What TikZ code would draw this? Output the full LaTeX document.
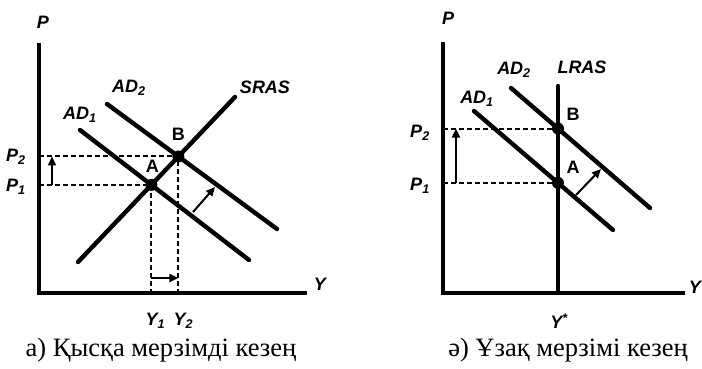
\documentclass[tikz,border=0pt]{standalone}
\usepackage{fontspec}
\setmainfont{Liberation Serif}
\newfontfamily\graphfont{Liberation Sans}
\usetikzlibrary{arrows.meta, calc, intersections}

\tikzset{
  axisline/.style={line width=3.4pt, line join=miter},
  curve/.style={line width=4.4pt, line cap=round},
  guide/.style={line width=2pt, dash pattern=on 5pt off 3pt},
  shiftarrow/.style={line width=2pt, -{Triangle[length=9pt, width=8pt]}},
  eqdot/.style={circle, fill, inner sep=0pt, minimum size=12pt},
  lbl/.style={font=\graphfont\bfseries\itshape\fontsize{18}{18}\selectfont, inner sep=1pt},
  ptlbl/.style={font=\graphfont\bfseries\fontsize{18}{18}\selectfont, inner sep=1pt},
  caption/.style={font=\fontsize{26.5}{28}\selectfont, inner sep=0pt, anchor=base}
}

\begin{document}
\begin{tikzpicture}[x=1pt, y=-1pt]
  \useasboundingbox (0,0) rectangle (702,369);
  % ---- a) short run: AD shifts along SRAS ----
  \coordinate (oa) at (39,293);
  \draw[axisline] (39,43) -- (oa) -- (307,293);
  \node[lbl] (pa) at (43,22) {P};
  \node[lbl] (ya) at (320,284) {Y};
  \path[name path=srasa] (78,262) -- (235,97);
  \path[name path=ad1a] (80,130) -- (249,260);
  \path[name path=ad2a] (107,104) -- (277,229);
  \path[name intersections={of=srasa and ad1a, by=Aa}];
  \path[name intersections={of=srasa and ad2a, by=Ba}];
  % dashed guides to the axes
  \draw[guide] (oa |- Aa) -- (Aa) -- (Aa |- oa);
  \draw[guide] (oa |- Ba) -- (Ba) -- (Ba |- oa);
  % curves
  \draw[curve] (78,262) -- (235,97);
  \draw[curve] (80,130) -- (249,260);
  \draw[curve] (107,104) -- (277,229);
  \node[eqdot] (dAa) at (Aa) {};
  \node[eqdot] (dBa) at (Ba) {};
  % shift arrows
  \draw[shiftarrow] ($(oa |- Aa)+(13,0)$) -- ($(oa |- Ba)+(13,0)$);
  \draw[shiftarrow] ($(Aa |- oa)+(0,-15)$) -- ($(Ba |- oa)+(0,-15)$);
  \draw[shiftarrow] (193,212) -- (215,187);
  % labels
  \node[lbl] (ad1a) at (80,115) {AD\textsubscript{1}};
  \node[lbl] (ad2a) at (129,88) {AD\textsubscript{2}};
  \node[lbl] (sras) at (265,87) {SRAS};
  \node[ptlbl] (la) at ($(Aa)+(1,-19)$) {A};
  \node[ptlbl] (lb) at ($(Ba)+(0,-22)$) {B};
  \node[lbl] (p2a) at (16,157) {P\textsubscript{2}};
  \node[lbl] (p1a) at (16,187) {P\textsubscript{1}};
  \node[lbl] (y1) at ($(Aa |- oa)+(4,28)$) {Y\textsubscript{1}};
  \node[lbl] (y2) at ($(Ba |- oa)+(5,28)$) {Y\textsubscript{2}};
  \node[caption] (capa) at (161,356) {а) Қысқа мерзімді кезең};

  % ---- ә) long run: AD shifts along LRAS ----
  \coordinate (ob) at (443,293);
  \draw[axisline] (443,42) -- (ob) -- (685,293);
  \node[lbl] (pb) at (448,18) {P};
  \node[lbl, anchor=east] (yb) at (702,287) {Y};
  \coordinate (lrastop) at (558,86);
  \path[name path=lrasb] (lrastop) -- (lrastop |- ob);
  \path[name path=ad1b] (474,111) -- (613,230);
  \path[name path=ad2b] (511,88) -- (650,208);
  \path[name intersections={of=lrasb and ad1b, by=Ab}];
  \path[name intersections={of=lrasb and ad2b, by=Bb}];
  \draw[guide] (ob |- Ab) -- (Ab);
  \draw[guide] (ob |- Bb) -- (Bb);
  \draw[curve] (lrastop) -- (lrastop |- ob);
  \draw[curve] (474,111) -- (613,230);
  \draw[curve] (511,88) -- (650,208);
  \node[eqdot] (dAb) at (Ab) {};
  \node[eqdot] (dBb) at (Bb) {};
  \draw[shiftarrow] ($(ob |- Ab)+(13,0)$) -- ($(ob |- Bb)+(13,0)$);
  \draw[shiftarrow] (576,195) -- (601,169);
  \node[lbl] (ad1b) at (477,99) {AD\textsubscript{1}};
  \node[lbl] (ad2b) at (514,70) {AD\textsubscript{2}};
  \node[lbl] (lras) at (582,67) {LRAS};
  \node[ptlbl] (lab) at ($(Ab)+(15,-16)$) {A};
  \node[ptlbl] (lbb) at ($(Bb)+(15,-14)$) {B};
  \node[lbl] (p2b) at (420,133) {P\textsubscript{2}};
  \node[lbl] (p1b) at (420,186) {P\textsubscript{1}};
  \node[lbl] (ystar) at ($(ob -| Ab)+(1,28)$) {Y\textsuperscript{*}};
  \node[caption] (capb) at (568,356) {ә) Ұзақ мерзімі кезең};
\end{tikzpicture}
\end{document}
